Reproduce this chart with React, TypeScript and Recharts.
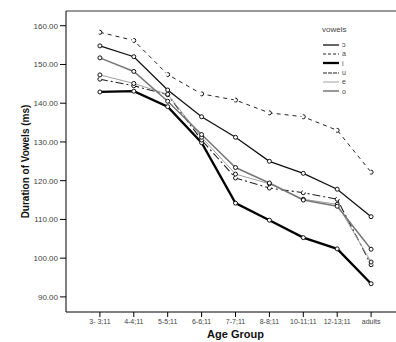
import { Line, LineChart, ReferenceLine, XAxis, YAxis } from 'recharts';

const ageGroups = ['3- 3;11', '4-4;11', '5-5;11', '6-6;11', '7-7;11', '8-8;11', '10-11;11', '12-13;11', 'adults'];
const vowelO = [154.8, 152.0, 143.4, 136.5, 131.2, 125.0, 121.9, 117.8, 110.7];
const vowelA = [158.3, 156.2, 147.4, 142.4, 140.8, 137.5, 136.5, 133.0, 122.2];
const vowelI = [142.9, 143.1, 139.1, 129.8, 114.2, 109.8, 105.3, 102.4, 93.4];
const vowelU = [146.2, 144.5, 142.2, 130.5, 120.7, 118.1, 116.9, 115.2, 98.3];
const vowelE = [147.3, 145.1, 142.3, 131.2, 121.7, 119.2, 115.2, 113.9, 99.0];
const vowelOo = [151.7, 148.2, 140.5, 131.9, 123.4, 119.4, 115.0, 113.4, 102.3];
const yTicks = [90, 100, 110, 120, 130, 140, 150, 160];

const data = ageGroups.map((g, i) => ({
  x: i + 1,
  c: vowelO[i],
  a: vowelA[i],
  i: vowelI[i],
  u: vowelU[i],
  e: vowelE[i],
  o: vowelOo[i],
}));

const series = [
  { key: 'c', label: 'ɔ', stroke: '#111', width: 1.3, dash: undefined, legDash: undefined },
  { key: 'a', label: 'a', stroke: '#222', width: 1, dash: '4 4', legDash: '3 2' },
  { key: 'i', label: 'i', stroke: '#000', width: 2.3, dash: undefined, legDash: undefined },
  { key: 'u', label: 'u', stroke: '#222', width: 1.1, dash: '8 3 2 3', legDash: '4 1' },
  { key: 'e', label: 'e', stroke: '#a0a0a0', width: 1, dash: undefined, legDash: undefined },
  { key: 'o', label: 'o', stroke: '#777', width: 1.5, dash: undefined, legDash: undefined },
];

const dot = { r: 2, stroke: '#111', fill: '#fff', strokeWidth: 1 };
const font = '"Liberation Sans", Arial, sans-serif';

export default function App() {
  return (
    <div style={{ position: 'fixed', left: 0, top: 0, width: 396, height: 342, overflow: 'hidden', background: '#fff', fontFamily: font }}>
      <LineChart width={420} height={342} data={data} margin={{ top: 11, right: 15, bottom: 0, left: 0 }}>
        <ReferenceLine y={163.8} stroke="#777" strokeWidth={1.5} />
        <XAxis
          dataKey="x"
          type="number"
          domain={[0, 10]}
          ticks={[1, 2, 3, 4, 5, 6, 7, 8, 9]}
          tickFormatter={(v: number) => ageGroups[v - 1]}
          height={30}
          stroke="#000"
          tickSize={5}
          tick={{ fontSize: 7, fill: '#444', fontFamily: font }}
          label={{ value: 'Age Group', position: 'center', dy: 7, style: { fontSize: 11, fontWeight: 'bold', fill: '#111', fontFamily: font } }}
        />
        <YAxis
          domain={[86.1, 163.8]}
          ticks={yTicks}
          width={66}
          stroke="#000"
          tickSize={6}
          tickFormatter={(v: number) => v.toFixed(2)}
          tick={{ fontSize: 8, fill: '#444', fontFamily: font }}
          label={{ value: 'Duration of Vowels (ms)', angle: -90, position: 'center', dx: -8, style: { fontSize: 10, fontWeight: 'bold', fill: '#111', fontFamily: font } }}
        />
        {series.map((s) => (
          <Line
            key={s.key}
            dataKey={s.key}
            stroke={s.stroke}
            strokeWidth={s.width}
            strokeDasharray={s.dash}
            dot={dot}
            activeDot={false}
            isAnimationActive={false}
          />
        ))}
      </LineChart>
      <div style={{ position: 'absolute', left: 322, top: 25, fontSize: 8, color: '#444' }}>
        <div style={{ marginBottom: 6 }}>vowels</div>
        {series.map((s) => (
          <div key={s.key} style={{ display: 'flex', alignItems: 'center', height: 9.3 }}>
            <svg width={18} height={6}>
              <line x1={1} y1={3} x2={17} y2={3} stroke={s.stroke} strokeWidth={s.width} strokeDasharray={s.legDash} />
            </svg>
            <span style={{ fontSize: 7, marginLeft: 2, color: '#444' }}>{s.label}</span>
          </div>
        ))}
      </div>
    </div>
  );
}
